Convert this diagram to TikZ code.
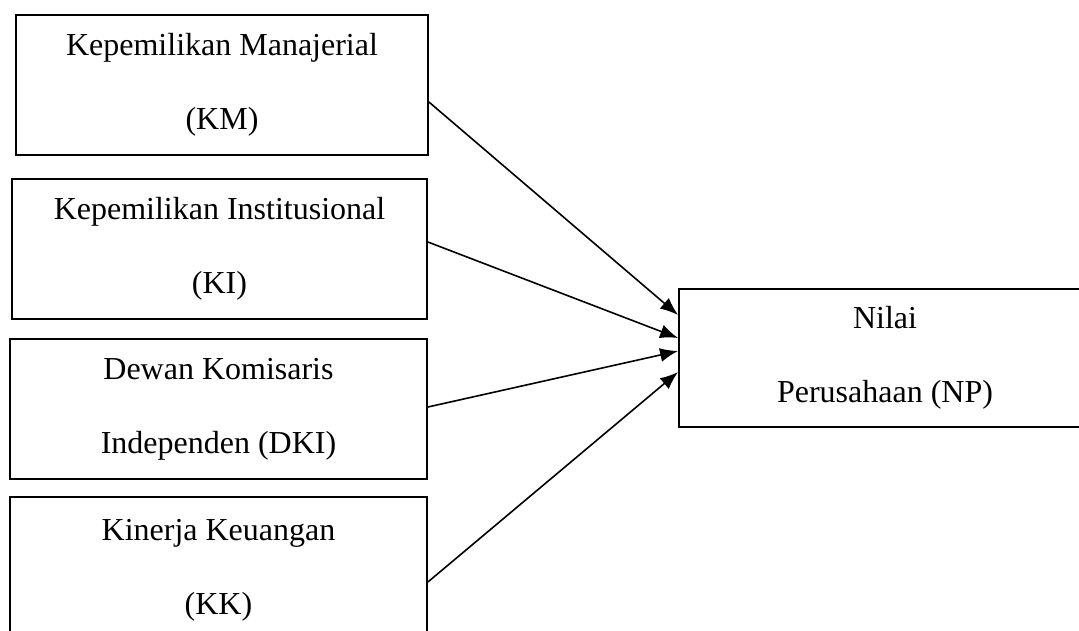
\documentclass[tikz,border=0pt]{standalone}
\usepackage{fontspec}
\setmainfont{Liberation Serif}
\usetikzlibrary{arrows.meta}

\tikzset{
  varbox/.style={draw, line width=1.8pt, minimum height=140pt, align=center,
    inner sep=0pt, font=\fontsize{32}{74}\selectfont},
  link/.style={line width=1.6pt, -{Latex[length=18pt,width=14pt]}}
}

\begin{document}
\begin{tikzpicture}[x=1pt, y=-1pt]

            \useasboundingbox (0,0) rectangle (1079,630);
            \clip (0,0) rectangle (1079,630);

            % Independent variables
            \node[varbox, minimum width=412pt] (km) at (222,85) {Kepemilikan Manajerial\\(KM)};
            \node[varbox, minimum width=415pt] (ki) at (219.5,249) {Kepemilikan Institusional\\(KI)};
            \node[varbox, minimum width=417pt] (dki) at (218.5,409) {Dewan Komisaris\\Independen (DKI)};
            \node[varbox, minimum width=417pt, minimum height=146pt] (kk) at (218.5,570) {Kinerja Keuangan\\(KK)};

            % Dependent variable
            \node[varbox, minimum width=412pt, minimum height=138pt] (np) at (885,358) {Nilai\\Perusahaan (NP)};

            % Paths
            \draw[link] ([yshift=-17pt]km.east) -- ([yshift=43pt]np.west);
            \draw[link] ([yshift=7pt]ki.east) -- ([yshift=20pt]np.west);
            \draw[link] ([yshift=2pt]dki.east) -- ([yshift=7pt]np.west);
            \draw[link] ([yshift=-12pt]kk.east) -- ([yshift=-14pt]np.west);

\end{tikzpicture}
\end{document}
